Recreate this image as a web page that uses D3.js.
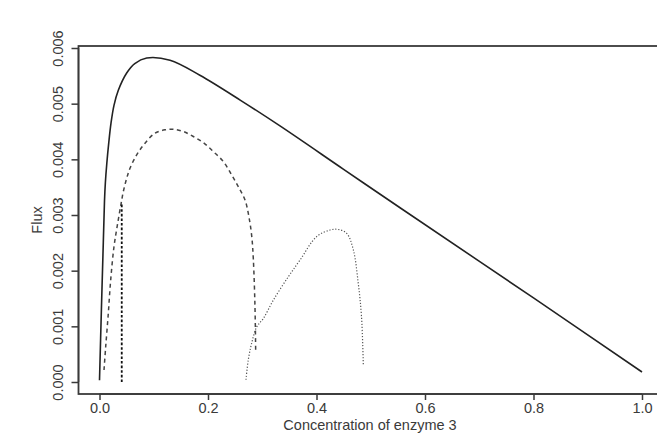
<!DOCTYPE html>
<html>
<head>
<meta charset="utf-8">
<script src="https://cdn.jsdelivr.net/npm/d3@7"></script>
<style>
  html, body { margin: 0; padding: 0; background: #fff; }
  svg { display: block; }
  text { font-family: "Liberation Sans", Arial, Helvetica, sans-serif; fill: #3a3a3a; }
</style>
</head>
<body>
<svg id="chart" width="657" height="442"></svg>
<script>
// ---- data ----
const xTicks = [0.0, 0.2, 0.4, 0.6, 0.8, 1.0];
const yTicks = [0.000, 0.001, 0.002, 0.003, 0.004, 0.005, 0.006];

const solidX = [0, 0.0035, 0.007, 0.0092, 0.0108, 0.0135, 0.0171, 0.0212, 0.0267, 0.0347, 0.0501, 0.065, 0.087, 0.13, 0.185, 0.26, 0.3327, 0.45, 0.554, 0.8, 1.0];
const solidY = [0.00003, 0.0013, 0.0025, 0.00325, 0.00358, 0.00393, 0.0043, 0.00465, 0.00497, 0.00524, 0.00555, 0.00572, 0.00582, 0.00578, 0.00551, 0.00506, 0.0046, 0.00382, 0.00313, 0.00151, 0.00018];

const dashX = [0.0083, 0.0114, 0.0162, 0.0206, 0.0267, 0.0335, 0.0401, 0.0439, 0.0501, 0.0562, 0.0686, 0.0839, 0.1023, 0.1207, 0.136, 0.1545, 0.1729, 0.1913, 0.2098, 0.2282, 0.2437, 0.2558, 0.2682, 0.2756, 0.2806, 0.2835, 0.2866, 0.2879];
const dashY = [0.000215, 0.00063, 0.00123, 0.00183, 0.00243, 0.00285, 0.00322, 0.00342, 0.00366, 0.00384, 0.00408, 0.00429, 0.00447, 0.00453, 0.00454, 0.0045, 0.00441, 0.0043, 0.00414, 0.00396, 0.00372, 0.00351, 0.00327, 0.00296, 0.00262, 0.00222, 0.00135, 0.00052];

const dotX = [0.27, 0.2743, 0.2806, 0.2898, 0.302, 0.3204, 0.348, 0.3696, 0.4, 0.425, 0.44, 0.4557, 0.468, 0.477, 0.483, 0.4863];
const dotY = [0.00004, 0.0004, 0.0007, 0.00099, 0.00114, 0.00147, 0.00189, 0.00219, 0.00261, 0.00273, 0.00274, 0.00267, 0.00237, 0.00177, 0.00117, 0.0003];

const vlineX = [0.041, 0.041];
const vlineY = [0.0, 0.0032];

const xLabel = "Concentration of enzyme 3";
const yLabel = "Flux";

// ---- drawing ----
const svg = d3.select("#chart");
const box = { left: 78.5, top: 46, bottom: 394, right: 700 };
const FS = 14.5;

const x = d3.scaleLinear().domain([0, 1]).range([99.5, 642]);
const y = d3.scaleLinear().domain([0, 0.006]).range([382, 48]);

const zip = (xs, ys) => xs.map((v, i) => [v, ys[i]]);
const line = d3.line().x(d => x(d[0])).y(d => y(d[1])).curve(d3.curveCatmullRom.alpha(0.5));
const straight = d3.line().x(d => x(d[0])).y(d => y(d[1]));

// plot box
svg.append("rect")
  .attr("x", box.left).attr("y", box.top)
  .attr("width", box.right - box.left).attr("height", box.bottom - box.top)
  .attr("fill", "none").attr("stroke", "#3a3a3a").attr("stroke-width", 1.8);

// axes
const xAxis = d3.axisBottom(x).tickValues(xTicks).tickSize(6).tickPadding(3)
  .tickFormat(d3.format(".1f"));
const gx = svg.append("g").attr("transform", `translate(0,${box.bottom})`).call(xAxis);
gx.select(".domain").attr("d", `M${x(0)},0H${x(1)}`).attr("stroke", "#3a3a3a").attr("stroke-width", 1.5);
gx.selectAll(".tick line").attr("stroke", "#3a3a3a").attr("stroke-width", 1.5);
gx.selectAll(".tick text").attr("font-size", FS).attr("fill", "#3a3a3a")
  .attr("font-family", "'Liberation Sans', Arial, sans-serif");

const yAxis = d3.axisLeft(y).tickValues(yTicks).tickSize(7).tickPadding(0)
  .tickFormat(d3.format(".3f"));
const gy = svg.append("g").attr("transform", `translate(${box.left},0)`).call(yAxis);
gy.select(".domain").attr("d", `M0,${y(0)}V${y(0.006)}`).attr("stroke", "#3a3a3a").attr("stroke-width", 1.5);
gy.selectAll(".tick line").attr("stroke", "#3a3a3a").attr("stroke-width", 1.5);
gy.selectAll(".tick text")
  .attr("x", null).attr("dy", null)
  .attr("text-anchor", "middle")
  .attr("transform", "translate(-15.5,0) rotate(-90)")
  .attr("font-size", FS).attr("fill", "#3a3a3a")
  .attr("font-family", "'Liberation Sans', Arial, sans-serif");

// axis titles
svg.append("text")
  .attr("x", 370).attr("y", 430)
  .attr("text-anchor", "middle").attr("font-size", FS)
  .text(xLabel);
svg.append("text")
  .attr("transform", `translate(41.5,${(box.top + box.bottom) / 2}) rotate(-90)`)
  .attr("text-anchor", "middle").attr("font-size", FS)
  .text(yLabel);

// curves
svg.append("path").datum(zip(solidX, solidY)).attr("d", line)
  .attr("fill", "none").attr("stroke", "#222").attr("stroke-width", 1.6);

svg.append("path").datum(zip(dashX, dashY)).attr("d", line)
  .attr("fill", "none").attr("stroke", "#444").attr("stroke-width", 1.5)
  .attr("stroke-dasharray", "4,3.5");

svg.append("path").datum(zip(vlineX, vlineY)).attr("d", straight)
  .attr("fill", "none").attr("stroke", "#111").attr("stroke-width", 1.8)
  .attr("stroke-dasharray", "2.6,2");

svg.append("path").datum(zip(dotX, dotY)).attr("d", line)
  .attr("fill", "none").attr("stroke", "#555").attr("stroke-width", 1.2)
  .attr("stroke-dasharray", "1.2,1.8");
</script>
</body>
</html>
